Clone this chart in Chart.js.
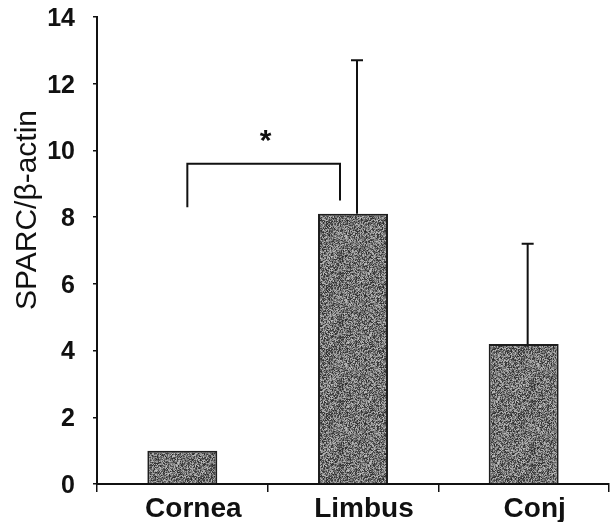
<!DOCTYPE html>
<html>
<head>
<meta charset="utf-8">
<script src="https://cdn.jsdelivr.net/npm/chart.js@4/dist/chart.umd.min.js"></script>
<style>
  html, body { margin: 0; padding: 0; background: #fff; }
  #wrap { width: 615px; height: 522px; }
</style>
</head>
<body>
<div id="wrap"><canvas id="sparcChart"></canvas></div>
<script>
const Categories = ['Cornea', 'Limbus', 'Conj'];
const Means = [1.0, 8.1, 4.2];
const Error_Tops = [null, 12.7, 7.2];
const Y_Ticks = [0, 2, 4, 6, 8, 10, 12, 14];
const Y_Title = 'SPARC/β-actin';
// significance bracket: from category 0 to 1, legs down to these values
const Bracket_Level = 9.6;
const Bracket_Legs = [8.3, 8.5];
const Bracket_Label = '*';

// grainy gray fill like the scanned print
function Make_Grain() {
    const Size = 64;
    const Tile = document.createElement('canvas');
    Tile.width = Size;
    Tile.height = Size;
    const Tctx = Tile.getContext('2d');
    const Img = Tctx.createImageData(Size, Size);
    let Seed = 12345;
    for (let i = 0; i < Size * Size; i++) {
        Seed = (Seed * 1103515245 + 12345) & 0x7fffffff;
        const V = 40 + (Seed % 150);
        Img.data[i * 4] = V;
        Img.data[i * 4 + 1] = V;
        Img.data[i * 4 + 2] = V;
        Img.data[i * 4 + 3] = 255;
    }
    Tctx.putImageData(Img, 0, 0);
    return Tctx.createPattern(Tile, 'repeat');
}

const Extras_Plugin = {
    id: 'extras',
    afterDatasetsDraw(Chart_Ref) {
        const Ctx = Chart_Ref.ctx;
        const X = Chart_Ref.scales.x;
        const Y = Chart_Ref.scales.y;
        Ctx.save();
        Ctx.strokeStyle = '#111';
        Ctx.lineWidth = 2;
        Error_Tops.forEach((Top, I) => {
            if (Top === null) return;
            const Cx = X.getPixelForValue(I) + 4;
            const Y0 = Y.getPixelForValue(Means[I]);
            const Y1 = Y.getPixelForValue(Top);
            Ctx.beginPath();
            Ctx.moveTo(Cx, Y0);
            Ctx.lineTo(Cx, Y1);
            Ctx.moveTo(Cx - 6, Y1);
            Ctx.lineTo(Cx + 6, Y1);
            Ctx.stroke();
        });

        // bracket
        const Xa = X.getPixelForValue(0) + 5;
        const Xb = X.getPixelForValue(1) - 13;
        const Yl = Y.getPixelForValue(Bracket_Level);
        Ctx.beginPath();
        Ctx.moveTo(Xa, Y.getPixelForValue(Bracket_Legs[0]));
        Ctx.lineTo(Xa, Yl);
        Ctx.lineTo(Xb, Yl);
        Ctx.lineTo(Xb, Y.getPixelForValue(Bracket_Legs[1]));
        Ctx.stroke();
        Ctx.fillStyle = '#111';
        Ctx.font = 'bold 30px "Liberation Sans", Arial, sans-serif';
        Ctx.textAlign = 'center';
        Ctx.textBaseline = 'middle';
        Ctx.fillText(Bracket_Label, (Xa + Xb) / 2 + 2, Yl - 22);

        // y title, sits a bit above the middle of the axis in the original
        Ctx.translate(36, 210);
        Ctx.rotate(-Math.PI / 2);
        Ctx.font = '30px "Liberation Sans", Arial, sans-serif';
        Ctx.textBaseline = 'alphabetic';
        Ctx.fillText(Y_Title, 0, 0);
        Ctx.restore();
    }
};

new Chart(document.getElementById('sparcChart').getContext('2d'), {
    type: 'bar',
    data: {
        labels: Categories,
        datasets: [{
            data: Means,
            backgroundColor: Make_Grain(),
            borderColor: '#1e1e1e',
            borderWidth: 2,
            barPercentage: 0.41,
            categoryPercentage: 1.0
        }]
    },
    options: {
        responsive: true,
        maintainAspectRatio: false,
        animation: false,
        layout: { padding: { top: 17, right: 6, left: 0, bottom: 0 } },
        plugins: { legend: { display: false }, tooltip: { enabled: false } },
        scales: {
            y: {
                min: 0,
                max: 14,
                afterBuildTicks: Axis => { Axis.ticks = Y_Ticks.map(V => ({ value: V })); },
                afterFit: Axis => {
                    Axis.width = 97;
                    Axis.paddingTop = 0;
                    Axis.paddingBottom = 0;
                },
                border: { display: true, color: '#111', width: 2 },
                grid: { drawOnChartArea: false, color: '#111', tickLength: 4, lineWidth: 1.5 },
                ticks: {
                    color: '#111',
                    padding: 18,
                    labelOffset: 2,
                    font: { family: '"Liberation Sans", Arial, sans-serif', size: 25, weight: 'bold' }
                }
            },
            x: {
                afterFit: Axis => { Axis.height = 38; },
                border: { display: true, color: '#111', width: 2 },
                grid: { drawOnChartArea: false, color: '#111', tickLength: 8, lineWidth: 1.5, offset: true },
                ticks: {
                    color: '#111',
                    padding: 0,
                    labelOffset: 11,
                    font: { family: '"Liberation Sans", Arial, sans-serif', size: 28, weight: 'bold' }
                }
            }
        }
    },
    plugins: [Extras_Plugin]
});
</script>
</body>
</html>
